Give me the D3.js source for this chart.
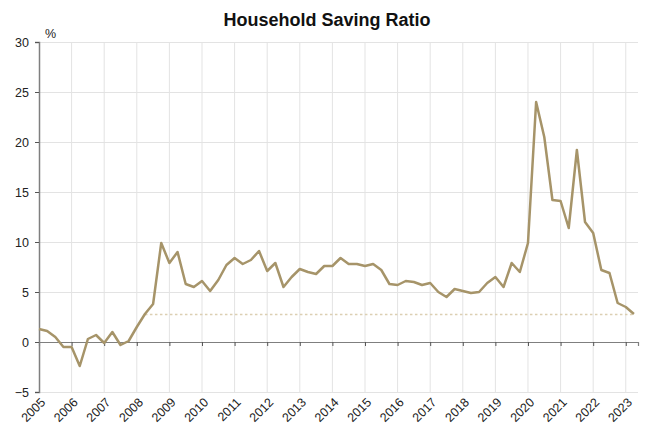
<!DOCTYPE html>
<html>
<head>
<meta charset="utf-8">
<script src="https://cdn.jsdelivr.net/npm/d3@7"></script>
<style>
  body { margin: 0; background: #fff; }
  text { font-family: "Liberation Sans", Arial, sans-serif; }
</style>
</head>
<body>
<div id="chart"></div>
<script>
// quarterly household saving ratio, 2005 Q1 .. 2023 Q2
const startYear = 2005;
const savingRatio = [
    1.3, 1.1, 0.5, -0.5, -0.5, -2.4, 0.3, 0.7, -0.1, 1.0, -0.3, 0.1,
    1.5, 2.8, 3.8, 9.9, 7.9, 9.0, 5.8, 5.5, 6.1, 5.1, 6.2, 7.7,
    8.4, 7.8, 8.2, 9.1, 7.1, 7.9, 5.5, 6.5, 7.3, 7.0, 6.8, 7.6,
    7.6, 8.4, 7.8, 7.8, 7.6, 7.8, 7.2, 5.8, 5.7, 6.1, 6.0, 5.7,
    5.9, 5.0, 4.5, 5.3, 5.1, 4.9, 5.0, 5.9, 6.5, 5.5, 7.9, 7.0,
    9.9, 24.0, 20.5, 14.2, 14.1, 11.4, 19.2, 12.0, 10.9, 7.2, 6.9, 3.9,
    3.5, 2.8
];
// long-run average shown as dotted line
const averageValue = 2.75;
const averageStart = 13;

const yearLabels = d3.range(2005, 2024);
const yTicks = [-5, 0, 5, 10, 15, 20, 25, 30];

const width = 646;
const height = 428;
const padding = {top: 42, right: 8, bottom: 36, left: 39};

const lineColor = "#a69469";
const gridColor = "#e3e3e3";
const axisColor = "#7f7f7f";

let xScale = d3.scaleLinear()
    .domain([0, 73.5])
    .range([padding.left, width - padding.right]);

let yScale = d3.scaleLinear()
    .domain([-5, 30])
    .range([height - padding.bottom, padding.top]);

let svg = d3.select("#chart")
    .append("svg")
    .attr("width", width)
    .attr("height", height);

// title
svg.append("text")
    .attr("x", 327)
    .attr("y", 26)
    .attr("text-anchor", "middle")
    .style("font-size", "18px")
    .style("font-weight", "bold")
    .attr("fill", "#111")
    .text("Household Saving Ratio");

svg.append("text")
    .attr("x", 45)
    .attr("y", 38)
    .style("font-size", "12.5px")
    .attr("fill", "#222")
    .text("%");

// horizontal grid
svg.append("g")
    .attr("class", "grid")
    .attr("transform", "translate(" + padding.left + ",0)")
    .call(d3.axisRight(yScale)
        .tickValues(yTicks)
        .tickSize(width - padding.right - padding.left)
        .tickFormat(""))
    .call(g => g.select(".domain").remove())
    .call(g => g.selectAll("line").attr("stroke", gridColor));

// vertical grid at each year
svg.append("g")
    .attr("class", "grid")
    .selectAll("line")
    .data(yearLabels.slice(1))
    .enter()
    .append("line")
    .attr("x1", d => xScale((d - startYear) * 4))
    .attr("x2", d => xScale((d - startYear) * 4))
    .attr("y1", yScale(30))
    .attr("y2", yScale(-5))
    .attr("stroke", gridColor);

// zero line with year ticks
let xAxis = d3.axisBottom(xScale)
    .tickValues(yearLabels.map(d => (d - startYear) * 4))
    .tickSize(4)
    .tickFormat("");

svg.append("g")
    .attr("class", "xAxis")
    .attr("transform", "translate(0," + yScale(0) + ")")
    .call(xAxis)
    .call(g => g.select(".domain").attr("stroke", axisColor).attr("stroke-width", 1.2))
    .call(g => g.selectAll("line").attr("stroke", "#555"));

// year labels at the bottom, rotated
svg.append("g")
    .attr("class", "labels")
    .selectAll("text")
    .data(yearLabels)
    .enter()
    .append("text")
    .attr("transform", d => "translate(" + (xScale((d - startYear) * 4) + 4) + "," + (yScale(-5) + 8) + ") rotate(-45)")
    .attr("text-anchor", "end")
    .attr("dy", "0.35em")
    .style("font-size", "12.5px")
    .attr("fill", "#222")
    .text(d => d);

// y axis
let yAxis = d3.axisLeft(yScale)
    .tickValues(yTicks)
    .tickSize(4)
    .tickPadding(6);

svg.append("g")
    .attr("class", "yAxis")
    .attr("transform", "translate(" + padding.left + ",0)")
    .call(yAxis)
    .call(g => g.select(".domain").attr("stroke", axisColor).attr("stroke-width", 1.5))
    .call(g => g.selectAll("line").attr("stroke", "#555"))
    .call(g => g.selectAll("text")
        .style("font-size", "12.5px")
        .style("font-family", "'Liberation Sans', Arial, sans-serif")
        .attr("fill", "#222"));

// average dotted line
svg.append("line")
    .attr("x1", xScale(averageStart))
    .attr("x2", xScale(savingRatio.length - 1))
    .attr("y1", yScale(averageValue))
    .attr("y2", yScale(averageValue))
    .attr("stroke", "#dccfb2")
    .attr("stroke-width", 1.5)
    .attr("stroke-dasharray", "2.5,2.5");

// saving ratio line
let line = d3.line()
    .x((d, i) => xScale(i))
    .y(d => yScale(d));

svg.append("path")
    .datum(savingRatio)
    .attr("fill", "none")
    .attr("stroke", lineColor)
    .attr("stroke-width", 2.5)
    .attr("stroke-linejoin", "round")
    .attr("d", line);
</script>
</body>
</html>
